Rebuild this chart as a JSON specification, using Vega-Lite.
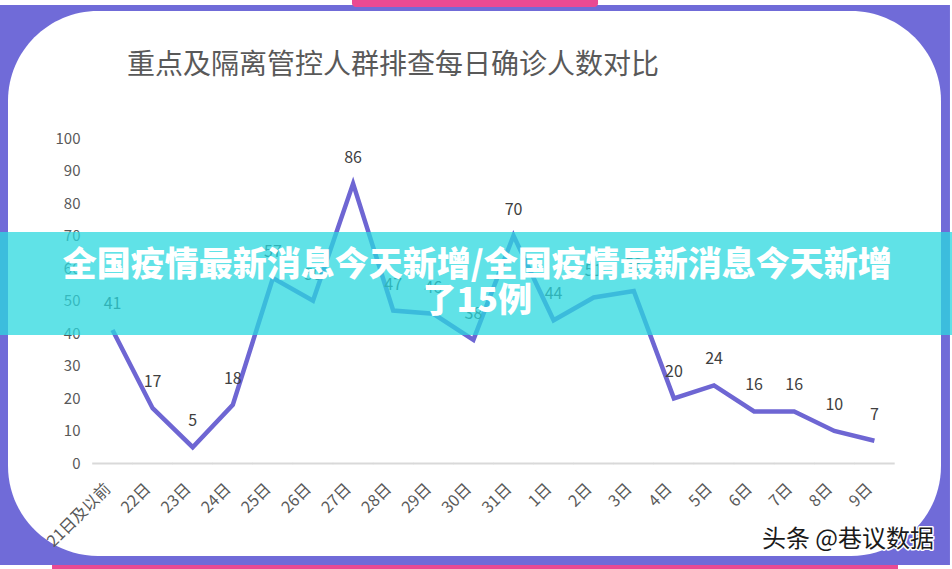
{
  "$schema": "https://vega.github.io/schema/vega-lite/v6.json",
  "width": 933,
  "height": 545,
  "padding": {"left": 8, "top": 11, "right": 11, "bottom": 13},
  "autosize": {"type": "none"},
  "background": "#706bd8",
  "config": {"view": {"stroke": null, "fill": "#ffffff", "cornerRadius": 90}, "font": "Noto Sans CJK SC", "axis": {"labelFont": "Noto Sans CJK SC", "zindex": 0}},
  "datasets": {
    "daily": [
      {"date": "21日及以前", "cases": 41},
      {"date": "22日", "cases": 17},
      {"date": "23日", "cases": 5},
      {"date": "24日", "cases": 18},
      {"date": "25日", "cases": 57},
      {"date": "26日", "cases": 50},
      {"date": "27日", "cases": 86},
      {"date": "28日", "cases": 47},
      {"date": "29日", "cases": 46},
      {"date": "30日", "cases": 38},
      {"date": "31日", "cases": 70},
      {"date": "1日", "cases": 44},
      {"date": "2日", "cases": 51},
      {"date": "3日", "cases": 53},
      {"date": "4日", "cases": 20},
      {"date": "5日", "cases": 24},
      {"date": "6日", "cases": 16},
      {"date": "7日", "cases": 16},
      {"date": "8日", "cases": 10},
      {"date": "9日", "cases": 7}
    ],
    "one": [{"k": 1}]
  },
  "layer": [
    {
      "data": {"name": "one"},
      "mark": {"type": "rect", "fill": "#ffffff", "clip": false},
      "encoding": {
        "x": {"datum": -0.9, "type": "quantitative", "scale": {"domain": [0, 100], "nice": false, "zero": false}, "axis": null},
        "x2": {"datum": 101.2},
        "y": {"datum": 142.5, "type": "quantitative", "scale": {"domain": [-28.42, 139.02], "nice": false, "zero": false}},
        "y2": {"datum": 140.86}
      }
    },
    {
      "data": {"name": "one"},
      "mark": {"type": "rect", "fill": "#ffffff", "clip": false},
      "encoding": {
        "x": {"datum": 100.96, "type": "quantitative", "scale": {"domain": [0, 100], "nice": false, "zero": false}, "axis": null},
        "x2": {"datum": 101.2},
        "y": {"datum": 142.5, "type": "quantitative", "scale": {"domain": [-28.42, 139.02], "nice": false, "zero": false}},
        "y2": {"datum": -32.7}
      }
    },
    {
      "data": {"name": "one"},
      "mark": {"type": "rect", "fill": "#ffffff", "clip": false},
      "encoding": {
        "x": {"datum": -0.9, "type": "quantitative", "scale": {"domain": [0, 100], "nice": false, "zero": false}, "axis": null},
        "x2": {"datum": 101.2},
        "y": {"datum": -31.18, "type": "quantitative", "scale": {"domain": [-28.42, 139.02], "nice": false, "zero": false}},
        "y2": {"datum": -32.7}
      }
    },
    {
      "data": {"name": "one"},
      "mark": {"type": "rect", "fill": "#ea4a93", "clip": false, "cornerRadiusBottomLeft": 7, "cornerRadiusBottomRight": 7},
      "encoding": {
        "x": {"datum": 36.87, "type": "quantitative", "scale": {"domain": [0, 100], "nice": false, "zero": false}, "axis": null},
        "x2": {"datum": 63.24},
        "y": {"datum": 142.5, "type": "quantitative", "scale": {"domain": [-28.42, 139.02], "nice": false, "zero": false}},
        "y2": {"datum": 140.25}
      }
    },
    {
      "data": {"name": "one"},
      "mark": {"type": "rect", "fill": "#ea4a93", "clip": false},
      "encoding": {
        "x": {"datum": 4.72, "type": "quantitative", "scale": {"domain": [0, 100], "nice": false, "zero": false}, "axis": null},
        "x2": {"datum": 95.39},
        "y": {"datum": -31.18, "type": "quantitative", "scale": {"domain": [-28.42, 139.02], "nice": false, "zero": false}},
        "y2": {"datum": -32.7}
      }
    },
    {
      "data": {"name": "one"},
      "mark": {"type": "text", "text": "重点及隔离管控人群排查每日确诊人数对比", "align": "left", "baseline": "middle", "fontSize": 28, "fill": "#595959", "clip": false},
      "encoding": {
        "x": {"datum": 12.75, "type": "quantitative", "scale": {"domain": [0, 100], "nice": false, "zero": false}, "axis": null},
        "y": {"datum": 122.1, "type": "quantitative", "scale": {"domain": [-28.42, 139.02], "nice": false, "zero": false}}
      }
    },
    {
      "data": {"name": "daily"},
      "mark": {"type": "rule", "color": "#d9d9d9", "strokeWidth": 2, "xOffset": -20.3, "x2Offset": 20.3},
      "encoding": {
        "x": {"field": "date", "type": "ordinal", "sort": null, "scale": {"type": "point", "padding": 0, "range": [104.5, 866.4]}, "axis": null},
        "x2": {"field": "date"},
        "y": {"datum": 0, "type": "quantitative", "scale": {"domain": [-28.42, 139.02], "nice": false, "zero": false}}
      }
    },
    {
      "data": {"name": "daily"},
      "mark": {"type": "line", "color": "#6e66d3", "strokeWidth": 4.5},
      "encoding": {
        "x": {"field": "date", "type": "ordinal", "sort": null, "scale": {"type": "point", "padding": 0, "range": [104.5, 866.4]},
          "axis": {"orient": "bottom", "offset": -92.5, "domain": false, "ticks": false, "grid": false, "labelAngle": -45, "labelAlign": "right", "labelBaseline": "middle", "labelPadding": 22.5, "labelOffset": -5, "labelFontSize": 16, "labelColor": "#595959", "labelOverlap": false, "title": null}},
        "y": {"field": "cases", "type": "quantitative", "scale": {"domain": [-28.42, 139.02], "nice": false, "zero": false},
          "axis": {"orient": "left", "offset": -72, "values": [0, 10, 20, 30, 40, 50, 60, 70, 80, 90, 100], "domain": false, "ticks": false, "tickSize": 0, "grid": false, "labelPadding": 0, "labelFontSize": 15, "labelColor": "#595959", "title": null}}
      }
    },
    {
      "data": {"name": "daily"},
      "mark": {"type": "text", "dy": -26, "fontSize": 16, "fill": "#404040", "baseline": "middle"},
      "encoding": {
        "x": {"field": "date", "type": "ordinal", "sort": null, "scale": {"type": "point", "padding": 0, "range": [104.5, 866.4]}, "axis": null},
        "y": {"field": "cases", "type": "quantitative", "scale": {"domain": [-28.42, 139.02], "nice": false, "zero": false}},
        "text": {"field": "cases", "type": "quantitative"}
      }
    },
    {
      "data": {"name": "one"},
      "mark": {"type": "rect", "fill": "#2bd8df", "opacity": 0.75, "clip": false},
      "encoding": {
        "x": {"datum": -0.9, "type": "quantitative", "scale": {"domain": [0, 100], "nice": false, "zero": false}, "axis": null},
        "x2": {"datum": 101.2},
        "y": {"datum": 71.12, "type": "quantitative", "scale": {"domain": [-28.42, 139.02], "nice": false, "zero": false}},
        "y2": {"datum": 39.48}
      }
    },
    {
      "data": {"name": "one"},
      "mark": {"type": "text", "text": ["全国疫情最新消息今天新增/全国疫情最新消息今天新增", "了15例"], "align": "center", "baseline": "middle", "lineHeight": 36, "fontSize": 34, "fontWeight": 900, "fill": "#ffffff", "clip": false},
      "encoding": {
        "x": {"datum": 50.3, "type": "quantitative", "scale": {"domain": [0, 100], "nice": false, "zero": false}, "axis": null},
        "y": {"datum": 60.68, "type": "quantitative", "scale": {"domain": [-28.42, 139.02], "nice": false, "zero": false}}
      }
    },
    {
      "data": {"name": "one"},
      "mark": {"type": "text", "text": "头条 @巷议数据", "align": "center", "baseline": "middle", "fontSize": 24, "fill": "#ffffff", "stroke": "#ffffff", "strokeWidth": 3, "strokeJoin": "round", "clip": false},
      "encoding": {
        "x": {"datum": 90.03, "type": "quantitative", "scale": {"domain": [0, 100], "nice": false, "zero": false}, "axis": null},
        "y": {"datum": -23.5, "type": "quantitative", "scale": {"domain": [-28.42, 139.02], "nice": false, "zero": false}}
      }
    },
    {
      "data": {"name": "one"},
      "mark": {"type": "text", "text": "头条 @巷议数据", "align": "center", "baseline": "middle", "fontSize": 24, "fill": "#1a1a1a", "clip": false},
      "encoding": {
        "x": {"datum": 90.03, "type": "quantitative", "scale": {"domain": [0, 100], "nice": false, "zero": false}, "axis": null},
        "y": {"datum": -23.5, "type": "quantitative", "scale": {"domain": [-28.42, 139.02], "nice": false, "zero": false}}
      }
    }
  ],
  "resolve": {"scale": {"x": "independent"}, "axis": {"x": "independent"}}
}
